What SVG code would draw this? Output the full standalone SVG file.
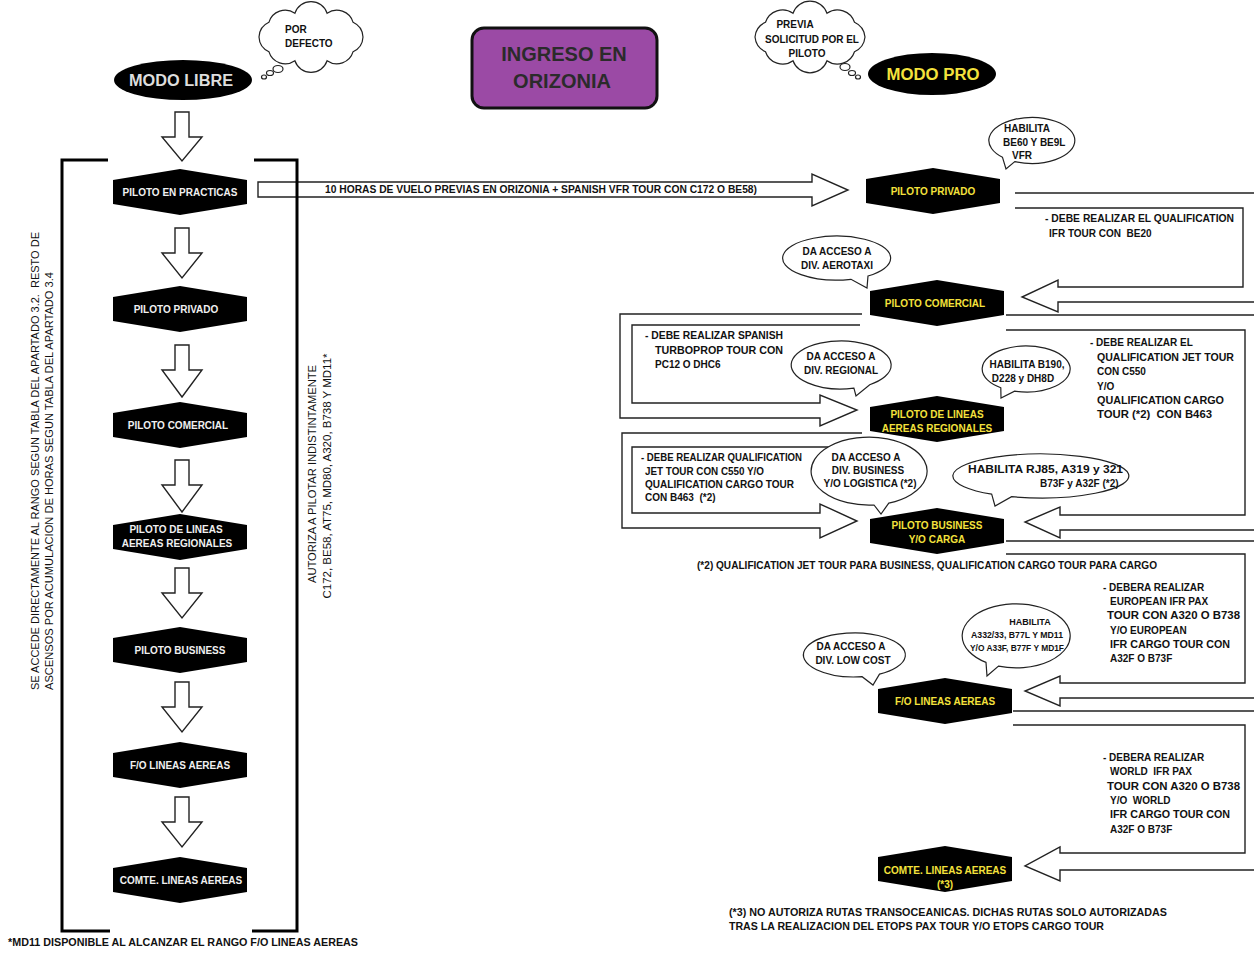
<svg xmlns="http://www.w3.org/2000/svg" width="1254" height="956" viewBox="0 0 1254 956">
<style>
text{font-family:"Liberation Sans",Arial,sans-serif;font-weight:bold;font-size:10px;fill:#111;white-space:pre}
.hx{fill:#000}
.lw{fill:#f0f0f0;text-anchor:middle}
.ly{fill:#f4e23c;text-anchor:middle}
.c{text-anchor:middle}
.reg{font-weight:normal}
.conn{fill:#fff;stroke:#222;stroke-width:1.4}
.open{fill:none;stroke:#222;stroke-width:1.4}
.bub{fill:#fff;stroke:#222;stroke-width:1.2}
.brk{fill:none;stroke:#000;stroke-width:3}
</style>

<g id="connectors">
  <polygon class="conn" points="175,112 189,112 189,137 202,137 182,161 162,137 175,137"/>
  <polygon class="conn" points="175,228 189,228 189,253 202,253 182,278 162,253 175,253"/>
  <polygon class="conn" points="175,345 189,345 189,370 202,370 182,397 162,370 175,370"/>
  <polygon class="conn" points="175,460 189,460 189,485 202,485 182,512 162,485 175,485"/>
  <polygon class="conn" points="175,568 189,568 189,593 202,593 182,618 162,593 175,593"/>
  <polygon class="conn" points="175,682 189,682 189,707 202,707 182,732 162,707 175,707"/>
  <polygon class="conn" points="175,797 189,797 189,822 202,822 182,847 162,822 175,822"/>
  <polygon class="conn" points="258,182 812,182 812,174 848,190 812,206 812,197 258,197"/>
  <path class="open" d="M1015,193 H1260 M1015,208 H1243 V287 H1058 V280 L1022,297 L1058,312 V302 H1260"/>
  <path class="open" d="M862,314 H620 V418 H820 V426 L857,410 L820,395 V403 H632 V325 H860"/>
  <path class="open" d="M1006,315 H1260 M1006,330 H1245 V515 H1060 V507 L1025,522 L1060,538 V530 H1260"/>
  <path class="open" d="M862,433 H622 V528 H820 V538 L857,521 L820,504 V513 H632 V447 H860"/>
  <path class="open" d="M1006,541 H1260 M1006,554 H1245 V683 H1060 V676 L1025,691 L1060,706 V698 H1260"/>
  <path class="open" d="M1013,711 H1260 M1013,725 H1245 V853 H1060 V847 L1025,866 L1060,881 V870 H1260"/>
</g>

<g id="bracket-left"><path class="brk" d="M108,160 H62 V931 H110"/></g>
<g id="bracket-right"><path class="brk" d="M254,160 H297 V931 H252"/></g>

<g id="title">
  <rect x="472" y="28" width="185" height="80" rx="12" fill="#9b4aa5" stroke="#111" stroke-width="3"/>
  <text class="c" x="564" y="61" style="font-size:20px;fill:#2b2b2b">INGRESO EN</text>
  <text class="c" x="562" y="88" style="font-size:20px;fill:#2b2b2b">ORIZONIA</text>
</g>

<g id="modo-libre">
  <ellipse cx="183" cy="80" rx="69" ry="20" fill="#000"/>
  <text class="c" x="181" y="86" style="font-size:16px;fill:#ddd" textLength="104" lengthAdjust="spacingAndGlyphs">MODO LIBRE</text>
</g>
<g id="cloud-defecto">
  <path class="bub" d="M363,37 A17,17 0 0 1 353.1,51.7 A17,17 0 0 1 327.1,60.8 A17,17 0 0 1 294.9,60.8 A17,17 0 0 1 268.9,51.7 A17,17 0 0 1 259,37 A17,17 0 0 1 268.9,22.3 A17,17 0 0 1 294.9,13.2 A17,17 0 0 1 327.1,13.2 A17,17 0 0 1 353.1,22.3 A17,17 0 0 1 363,37 Z"/>
  <ellipse class="bub" cx="278" cy="69" rx="5" ry="3.5"/>
  <ellipse class="bub" cx="270" cy="73" rx="3.5" ry="2.5"/>
  <ellipse class="bub" cx="264" cy="77" rx="2.5" ry="2"/>
  <text x="285" y="33">POR</text>
  <text x="285" y="47">DEFECTO</text>
</g>
<g id="modo-pro">
  <ellipse cx="932" cy="74" rx="64" ry="21" fill="#000"/>
  <text class="c" x="933" y="80" style="font-size:16px;fill:#f4e23c" textLength="93" lengthAdjust="spacingAndGlyphs">MODO PRO</text>
</g>
<g id="cloud-previa">
  <path class="bub" d="M865,37 A18,18 0 0 1 854.5,51.7 A18,18 0 0 1 827,60.8 A18,18 0 0 1 793,60.8 A18,18 0 0 1 765.5,51.7 A18,18 0 0 1 755,37 A18,18 0 0 1 765.5,22.3 A18,18 0 0 1 793,13.2 A18,18 0 0 1 827,13.2 A18,18 0 0 1 854.5,22.3 A18,18 0 0 1 865,37 Z"/>
  <ellipse class="bub" cx="845" cy="67" rx="5" ry="3.5"/>
  <ellipse class="bub" cx="852" cy="73" rx="3.5" ry="2.5"/>
  <ellipse class="bub" cx="858" cy="77" rx="2.5" ry="2"/>
  <text class="c" x="795" y="28">PREVIA</text>
  <text class="c" x="812" y="43">SOLICITUD POR EL</text>
  <text class="c" x="807" y="57">PILOTO</text>
</g>

<g id="libre-practicas"><polygon class="hx" points="113,180 180,169 247,180 247,204 180,215 113,204"/><text class="lw" x="180" y="196">PILOTO EN PRACTICAS</text></g>
<g id="libre-privado"><polygon class="hx" points="113,297 180,286 247,297 247,321 180,332 113,321"/><text class="lw" x="176" y="313">PILOTO PRIVADO</text></g>
<g id="libre-comercial"><polygon class="hx" points="113,413 180,402 247,413 247,437 180,448 113,437"/><text class="lw" x="178" y="429">PILOTO COMERCIAL</text></g>
<g id="libre-regionales"><polygon class="hx" points="113,525 180,514 247,525 247,549 180,560 113,549"/><text class="lw" x="176" y="533">PILOTO DE LINEAS</text><text class="lw" x="177" y="547">AEREAS REGIONALES</text></g>
<g id="libre-business"><polygon class="hx" points="113,638 180,627 247,638 247,662 180,673 113,662"/><text class="lw" x="180" y="654">PILOTO BUSINESS</text></g>
<g id="libre-fo"><polygon class="hx" points="113,753 180,742 247,753 247,777 180,788 113,777"/><text class="lw" x="180" y="769">F/O LINEAS AEREAS</text></g>
<g id="libre-comte"><polygon class="hx" points="113,868 180,857 247,868 247,892 180,903 113,892"/><text class="lw" x="181" y="884">COMTE. LINEAS AEREAS</text></g>

<g id="pro-privado"><polygon class="hx" points="866,179 933,168 1000,179 1000,203 933,214 866,203"/><text class="ly" x="933" y="195">PILOTO PRIVADO</text></g>
<g id="pro-comercial"><polygon class="hx" points="870,291 937,280 1004,291 1004,315 937,326 870,315"/><text class="ly" x="935" y="307">PILOTO COMERCIAL</text></g>
<g id="pro-regionales"><polygon class="hx" points="870,407 937,396 1004,407 1004,431 937,442 870,431"/><text class="ly" x="937" y="418">PILOTO DE LINEAS</text><text class="ly" x="937" y="432">AEREAS REGIONALES</text></g>
<g id="pro-business"><polygon class="hx" points="870,519 937,508 1004,519 1004,543 937,554 870,543"/><text class="ly" x="937" y="529">PILOTO BUSINESS</text><text class="ly" x="937" y="543">Y/O CARGA</text></g>
<g id="pro-fo"><polygon class="hx" points="878,689 945,678 1012,689 1012,713 945,724 878,713"/><text class="ly" x="945" y="705">F/O LINEAS AEREAS</text></g>
<g id="pro-comte"><polygon class="hx" points="878,857 945,846 1012,857 1012,881 945,892 878,881"/><text class="ly" x="945" y="874">COMTE. LINEAS AEREAS</text><text class="ly" x="945" y="888">(*3)</text></g>

<g id="bubble-be60">
  <path class="bub" d="M1002.5,157.3 A43,23 0 1 1 1014.8,161.6 L1006,169 Z"/>
  <text x="1004" y="132">HABILITA</text>
  <text x="1003" y="146">BE60 Y BE9L</text>
  <text x="1012" y="159">VFR</text>
</g>
<g id="bubble-aerotaxi">
  <path class="bub" d="M851,279.3 A54,22 0 1 1 868,276 L867,288 Z"/>
  <text class="c" x="837" y="255">DA ACCESO A</text>
  <text class="c" x="837" y="269">DIV. AEROTAXI</text>
</g>
<g id="bubble-regional">
  <path class="bub" d="M853.9,388.2 A50,24 0 1 1 869.7,384.7 L856,396 Z"/>
  <text class="c" x="841" y="360">DA ACCESO A</text>
  <text class="c" x="841" y="374">DIV. REGIONAL</text>
</g>
<g id="bubble-b190">
  <path class="bub" d="M1000.8,387.8 A44,23 0 1 1 1014.6,391.2 L1001,398 Z"/>
  <text class="c" x="1027" y="368">HABILITA B190,</text>
  <text class="c" x="1023" y="382">D228 y DH8D</text>
</g>
<g id="bubble-business">
  <path class="bub" d="M874,505 A58,34 0 1 1 888.8,503.1 L881,514 Z"/>
  <text class="c" x="866" y="461">DA ACCESO A</text>
  <text class="c" x="868" y="474">DIV. BUSINESS</text>
  <text class="c" x="870" y="487">Y/O LOGISTICA (*2)</text>
</g>
<g id="bubble-rj85">
  <path class="bub" d="M991.7,494.2 A88,22 0 1 1 1011.6,496.7 L995,506 Z"/>
  <text x="968" y="473" textLength="155" lengthAdjust="spacingAndGlyphs">HABILITA RJ85, A319 y 321</text>
  <text x="1040" y="487">B73F y A32F (*2)</text>
</g>
<g id="bubble-lowcost">
  <path class="bub" d="M862.1,676.7 A51,22 0 1 1 879.5,674.1 L873,685 Z"/>
  <text class="c" x="851" y="650">DA ACCESO A</text>
  <text class="c" x="853" y="664">DIV. LOW COST</text>
</g>
<g id="bubble-a332">
  <path class="bub" d="M986,662.4 A54,32 0 1 1 998.5,666.1 L987,676 Z"/>
  <text class="c" x="1030" y="625" style="font-size:9px">HABILITA</text>
  <text class="c" x="1017" y="638" style="font-size:9px" textLength="92" lengthAdjust="spacingAndGlyphs">A332/33, B77L Y MD11</text>
  <text class="c" x="1017" y="651" style="font-size:9px" textLength="94" lengthAdjust="spacingAndGlyphs">Y/O A33F, B77F Y MD1F</text>
</g>

<g id="label-vfr-tour">
  <text x="325" y="193" textLength="432" lengthAdjust="spacingAndGlyphs">10 HORAS DE VUELO PREVIAS EN ORIZONIA + SPANISH VFR TOUR CON C172 O BE58)</text>
</g>
<g id="label-be20">
  <text x="1045" y="222" textLength="189" lengthAdjust="spacingAndGlyphs">- DEBE REALIZAR EL QUALIFICATION</text>
  <text x="1049" y="237">IFR TOUR CON  BE20</text>
</g>
<g id="label-turboprop">
  <text x="645" y="339" textLength="138" lengthAdjust="spacingAndGlyphs">- DEBE REALIZAR SPANISH</text>
  <text x="655" y="354" textLength="128" lengthAdjust="spacingAndGlyphs">TURBOPROP TOUR CON</text>
  <text x="655" y="368">PC12 O DHC6</text>
</g>
<g id="label-jet-right">
  <text x="1090" y="346">- DEBE REALIZAR EL</text>
  <text x="1097" y="361" textLength="137" lengthAdjust="spacingAndGlyphs">QUALIFICATION JET TOUR</text>
  <text x="1097" y="375">CON C550</text>
  <text x="1097" y="390">Y/O</text>
  <text x="1097" y="404" textLength="127" lengthAdjust="spacingAndGlyphs">QUALIFICATION CARGO</text>
  <text x="1097" y="418" textLength="115" lengthAdjust="spacingAndGlyphs">TOUR (*2)  CON B463</text>
</g>
<g id="label-jet-left">
  <text x="641" y="461" textLength="161" lengthAdjust="spacingAndGlyphs">- DEBE REALIZAR QUALIFICATION</text>
  <text x="645" y="475" textLength="119" lengthAdjust="spacingAndGlyphs">JET TOUR CON C550 Y/O</text>
  <text x="645" y="488" textLength="149" lengthAdjust="spacingAndGlyphs">QUALIFICATION CARGO TOUR</text>
  <text x="645" y="501">CON B463  (*2)</text>
</g>
<g id="note-2">
  <text x="697" y="569" textLength="460" lengthAdjust="spacingAndGlyphs">(*2) QUALIFICATION JET TOUR PARA BUSINESS, QUALIFICATION CARGO TOUR PARA CARGO</text>
</g>
<g id="label-european">
  <text x="1103" y="591">- DEBERA REALIZAR</text>
  <text x="1110" y="605">EUROPEAN IFR PAX</text>
  <text x="1107" y="619" textLength="133" lengthAdjust="spacingAndGlyphs">TOUR CON A320 O B738</text>
  <text x="1110" y="634">Y/O EUROPEAN</text>
  <text x="1110" y="648" textLength="120" lengthAdjust="spacingAndGlyphs">IFR CARGO TOUR CON</text>
  <text x="1110" y="662">A32F O B73F</text>
</g>
<g id="label-world">
  <text x="1103" y="761">- DEBERA REALIZAR</text>
  <text x="1110" y="775">WORLD  IFR PAX</text>
  <text x="1107" y="790" textLength="133" lengthAdjust="spacingAndGlyphs">TOUR CON A320 O B738</text>
  <text x="1110" y="804">Y/O  WORLD</text>
  <text x="1110" y="818" textLength="120" lengthAdjust="spacingAndGlyphs">IFR CARGO TOUR CON</text>
  <text x="1110" y="833">A32F O B73F</text>
</g>
<g id="note-3">
  <text x="729" y="916" textLength="438" lengthAdjust="spacingAndGlyphs">(*3) NO AUTORIZA RUTAS TRANSOCEANICAS. DICHAS RUTAS SOLO AUTORIZADAS</text>
  <text x="729" y="930" textLength="375" lengthAdjust="spacingAndGlyphs">TRAS LA REALIZACION DEL ETOPS PAX TOUR Y/O ETOPS CARGO TOUR</text>
</g>
<g id="note-md11">
  <text x="8" y="946" textLength="350" lengthAdjust="spacingAndGlyphs">*MD11 DISPONIBLE AL ALCANZAR EL RANGO F/O LINEAS AEREAS</text>
</g>

<g id="note-acceso">
  <text class="reg" transform="translate(39,690) rotate(-90)" textLength="458" lengthAdjust="spacingAndGlyphs">SE ACCEDE DIRECTAMENTE AL RANGO SEGUN TABLA DEL APARTADO 3.2.  RESTO DE</text>
  <text class="reg" transform="translate(53,690) rotate(-90)" textLength="418" lengthAdjust="spacingAndGlyphs">ASCENSOS POR ACUMULACION DE HORAS SEGUN TABLA DEL APARTADO 3.4</text>
</g>
<g id="note-autoriza">
  <text class="reg c" transform="translate(316,474) rotate(-90)" textLength="218" lengthAdjust="spacingAndGlyphs">AUTORIZA A PILOTAR INDISTINTAMENTE</text>
  <text class="reg c" transform="translate(331,476) rotate(-90)" textLength="245" lengthAdjust="spacingAndGlyphs">C172, BE58, AT75, MD80, A320, B738 Y MD11*</text>
</g>
</svg>
